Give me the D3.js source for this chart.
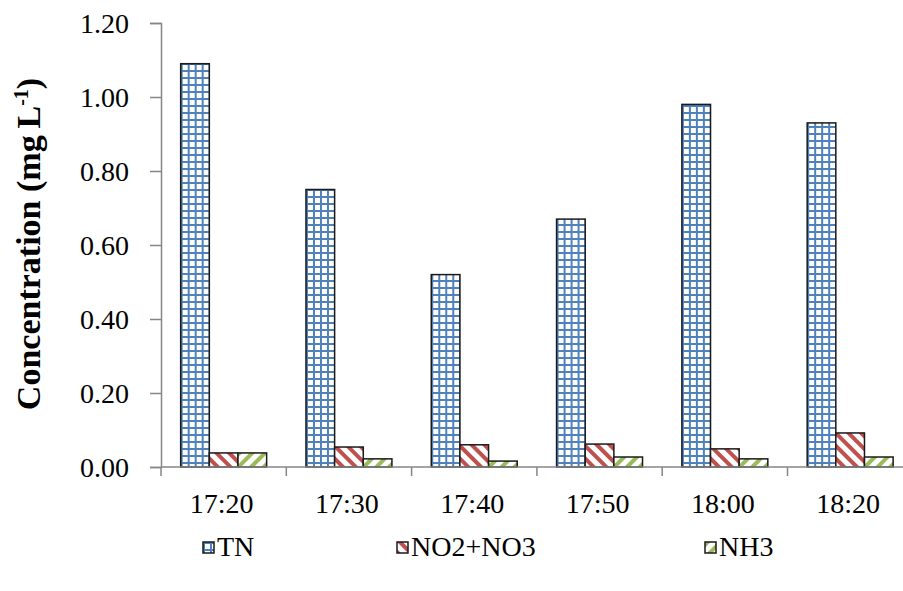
<!DOCTYPE html>
<html>
<head>
<meta charset="utf-8">
<script src="https://cdn.jsdelivr.net/npm/d3@7/dist/d3.min.js"></script>
<style>
  html, body { margin: 0; padding: 0; background: #fff; }
  svg { display: block; }
</style>
</head>
<body>
<script>
// Sampling times and measured nitrogen concentrations (mg L-1)
const times = ["17:20", "17:30", "17:40", "17:50", "18:00", "18:20"];
const seriesNames = ["TN", "NO2+NO3", "NH3"];
const tnValues = [1.09, 0.75, 0.52, 0.67, 0.98, 0.93];
const no2no3Values = [0.038, 0.054, 0.060, 0.062, 0.049, 0.092];
const nh3Values = [0.038, 0.022, 0.016, 0.027, 0.022, 0.027];
const yTicks = [0, 0.2, 0.4, 0.6, 0.8, 1.0, 1.2];

const FONT = '"Liberation Serif"';
const W = 903, H = 591;
const margin = { left: 161, top: 23, bottom: 124 };
const plotBottom = H - margin.bottom; // 467

const svg = d3.select("body").append("svg")
  .attr("width", W).attr("height", H);

// Fill patterns for the three series
const defs = svg.append("defs");
const grid = defs.append("pattern").attr("id", "pat-tn")
  .attr("patternUnits", "userSpaceOnUse").attr("width", 7).attr("height", 7)
  .attr("x", 0).attr("y", 0);
grid.append("rect").attr("width", 7).attr("height", 7).attr("fill", "#fff");
grid.append("rect").attr("x", 0).attr("y", 0).attr("width", 2).attr("height", 7).attr("fill", "#4f81bd");
grid.append("rect").attr("x", 0).attr("y", 0).attr("width", 7).attr("height", 2).attr("fill", "#4f81bd");

function stripes(id, color, angle) {
  const p = defs.append("pattern").attr("id", id)
    .attr("patternUnits", "userSpaceOnUse").attr("width", 9).attr("height", 9)
    .attr("patternTransform", `rotate(${angle})`);
  p.append("rect").attr("width", 9).attr("height", 9).attr("fill", "#fff");
  p.append("rect").attr("x", 0).attr("y", 0).attr("width", 4).attr("height", 9).attr("fill", color);
}
stripes("pat-no", "#c0504d", -45);
stripes("pat-nh", "#9bbb59", 45);

const fills = { "TN": "url(#pat-tn)", "NO2+NO3": "url(#pat-no)", "NH3": "url(#pat-nh)" };

const data = times.map((t, i) => ({
  time: t,
  values: [
    { key: "TN", value: tnValues[i] },
    { key: "NO2+NO3", value: no2no3Values[i] },
    { key: "NH3", value: nh3Values[i] }
  ]
}));

// Scales
const x0 = d3.scaleBand().domain(times)
  .range([margin.left, margin.left + 751.8])
  .paddingInner(0.314).paddingOuter(0.157);
const x1 = d3.scaleBand().domain(seriesNames).range([0, x0.bandwidth()]).padding(0);
const y = d3.scaleLinear().domain([0, 1.2]).range([plotBottom, margin.top]);

const axisColor = "#868686";

// Bars
const groups = svg.append("g").selectAll("g").data(data).join("g")
  .attr("transform", d => `translate(${x0(d.time)},0)`);
groups.selectAll("rect").data(d => d.values).join("rect")
  .attr("x", d => x1(d.key))
  .attr("y", d => y(d.value))
  .attr("width", x1.bandwidth())
  .attr("height", d => plotBottom - y(d.value))
  .attr("fill", d => fills[d.key])
  .attr("stroke", "#1a1a1a")
  .attr("stroke-width", 1.5);

// Y axis
const yAxis = svg.append("g").attr("transform", `translate(${margin.left},0)`)
  .call(d3.axisLeft(y).tickValues(yTicks).tickFormat(d3.format(".2f")).tickSize(11).tickPadding(21));
yAxis.select(".domain").attr("stroke", axisColor).attr("stroke-width", 1.5);
yAxis.selectAll(".tick line").attr("stroke", axisColor).attr("stroke-width", 1.5);
yAxis.selectAll("text")
  .style("font-family", FONT).style("font-size", "28px")
  .attr("dy", "0.34em").attr("fill", "#000");

// X axis: category ticks sit at the group boundaries
const xAxisG = svg.append("g").attr("transform", `translate(0,${plotBottom})`);
xAxisG.append("line").attr("x1", margin.left).attr("x2", W).attr("y1", 0).attr("y2", 0)
  .attr("stroke", axisColor).attr("stroke-width", 1.5);
const step = x0.step();
const boundaries = times.map(t => x0(t) - x0.paddingOuter() * step)
  .concat([x0(times[times.length - 1]) + x0.bandwidth() + x0.paddingOuter() * step]);
xAxisG.selectAll("line.tk").data(boundaries).join("line").attr("class", "tk")
  .attr("x1", d => d).attr("x2", d => d).attr("y1", 0).attr("y2", 9)
  .attr("stroke", axisColor).attr("stroke-width", 1.5);
xAxisG.selectAll("text").data(times).join("text")
  .attr("x", d => x0(d) + x0.bandwidth() / 2 - 2)
  .attr("y", 46)
  .attr("text-anchor", "middle")
  .style("font-family", FONT).style("font-size", "28px")
  .text(d => d);

// Y axis title
const yTitle = svg.append("text")
  .attr("transform", `translate(40,${244}) rotate(-90)`)
  .attr("text-anchor", "middle")
  .style("font-family", FONT).style("font-size", "34px")
  .style("font-weight", "bold");
yTitle.append("tspan").text("Concentration (mg");
yTitle.append("tspan").text("\u2009L");
yTitle.append("tspan").attr("dy", -12).style("font-size", "20px").text("-1");
yTitle.append("tspan").attr("dy", 12).text(")");

// Legend
const legendX = [203, 397, 705];
const legend = svg.append("g").selectAll("g").data(seriesNames).join("g")
  .attr("transform", (d, i) => `translate(${legendX[i]},${542})`);
legend.append("rect").attr("width", 11).attr("height", 11)
  .attr("fill", d => fills[d]).attr("stroke", "#1a1a1a").attr("stroke-width", 1.5);
legend.append("text").attr("x", 14).attr("y", 14)
  .style("font-family", FONT).style("font-size", "28px")
  .text(d => d);
</script>
</body>
</html>
